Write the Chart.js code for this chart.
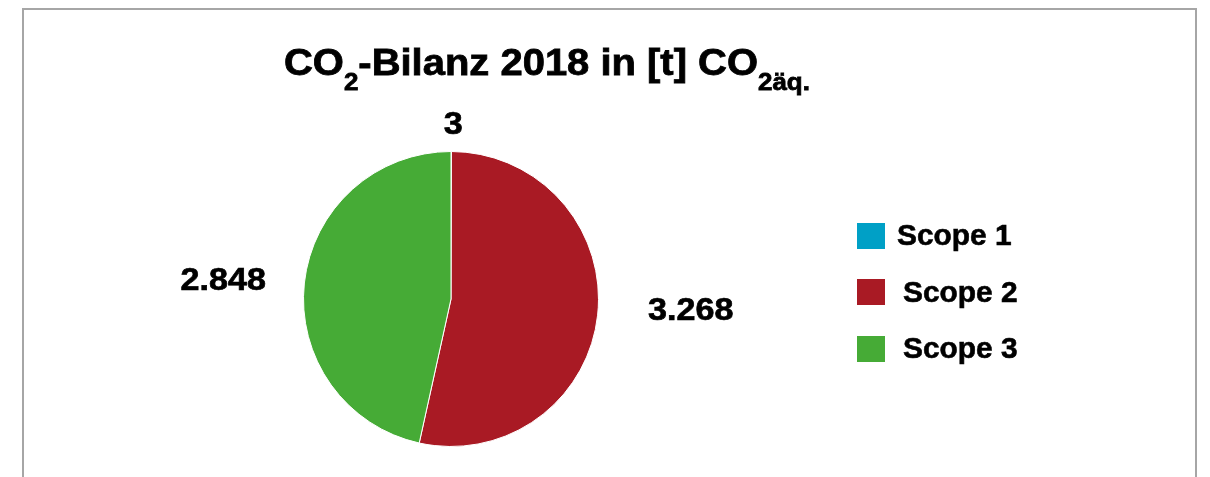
<!DOCTYPE html>
<html>
<head>
<meta charset="utf-8">
<script src="https://cdn.jsdelivr.net/npm/chart.js@4"></script>
<style>
  html, body { margin: 0; padding: 0; background: #fff; overflow: hidden; }
  #wrap { position: relative; width: 1210px; height: 477px; }
  #frame { position: absolute; left: 22px; top: 8px; width: 1171px; height: 520px; border: 2px solid #a6a6a6; }
  canvas { position: absolute; left: 0; top: 0; }
</style>
</head>
<body>
<div id="wrap">
  <div id="frame"></div>
  <canvas id="chart" width="1210" height="477"></canvas>
</div>
<script>
const categories = ['Scope 1', 'Scope 2', 'Scope 3'];
const emissions = [3, 3268, 2848];
const valueLabels = ['3', '3.268', '2.848'];
const colors = ['#00a0c6', '#a91a24', '#46ab36'];

const FONT = '"Liberation Sans", Arial, sans-serif';

// title pieces: [text, isSubscript]
const titleParts = [['CO', false], ['2', true], ['-Bilanz 2018 in [t] CO', false], ['2äq.', true]];

// text stretched horizontally, with a thin outline to thicken the strokes
function wideText(ctx, txt, x, y, sx, stroke) {
    ctx.save();
    ctx.translate(x, y);
    ctx.scale(sx, 1);
    ctx.fillText(txt, 0, 0);
    if (stroke) {
        ctx.lineWidth = stroke;
        ctx.strokeStyle = ctx.fillStyle;
        ctx.strokeText(txt, 0, 0);
    }
    ctx.restore();
}

const titlePlugin = {
    id: 'subTitle',
    afterDraw(chart) {
        const ctx = chart.ctx;
        const sx = 1.08;
        ctx.save();
        ctx.fillStyle = '#000';
        ctx.textBaseline = 'alphabetic';
        ctx.textAlign = 'left';
        let x = 284;
        titleParts.forEach(([txt, sub]) => {
            ctx.font = sub ? 'bold 24px ' + FONT : 'bold 37px ' + FONT;
            wideText(ctx, txt, x, sub ? 90 : 75, sx, 0.8);
            x += ctx.measureText(txt).width * sx;
        });
        ctx.restore();
    }
};

// value labels outside the slices
const outLabels = {
    id: 'outLabels',
    afterDatasetsDraw(chart, args, opts) {
        const ctx = chart.ctx;
        const meta = chart.getDatasetMeta(0);
        const sx = 1.1;
        ctx.save();
        ctx.font = 'bold 31px ' + FONT;
        ctx.fillStyle = '#000';
        ctx.textAlign = 'center';
        ctx.textBaseline = 'middle';
        meta.data.forEach((arc, i) => {
            const p = arc.getProps(['x', 'y', 'startAngle', 'endAngle', 'outerRadius'], true);
            const mid = (p.startAngle + p.endAngle) / 2;
            const w = ctx.measureText(valueLabels[i]).width * sx;
            const h = 22;
            const dx = Math.cos(mid), dy = Math.sin(mid);
            const d = p.outerRadius + 30 + Math.abs(dx) * w / 2 + Math.abs(dy) * h / 2;
            const n = opts.nudge[i];
            wideText(ctx, valueLabels[i], p.x + dx * d + n[0], p.y + dy * d + n[1] + 1, sx, 0.7);
        });
        ctx.restore();
    }
};

// legend on the right
const sideLegend = {
    id: 'sideLegend',
    afterDraw(chart) {
        const ctx = chart.ctx;
        const boxTop = [223, 279, 336];
        const textX = [897, 903, 903];
        const baseY = [245, 302, 358];
        ctx.save();
        ctx.font = 'bold 29px ' + FONT;
        ctx.textBaseline = 'alphabetic';
        ctx.textAlign = 'left';
        categories.forEach((c, i) => {
            ctx.fillStyle = colors[i];
            ctx.fillRect(857, boxTop[i], 28, 26);
            ctx.fillStyle = '#000';
            wideText(ctx, c, textX[i], baseY[i], 1.03, 0.6);
        });
        ctx.restore();
    }
};

new Chart(document.getElementById('chart'), {
    type: 'pie',
    data: {
        labels: categories,
        datasets: [{
            data: emissions,
            backgroundColor: colors,
            borderColor: '#ffffff',
            borderWidth: 1
        }]
    },
    options: {
        responsive: false,
        animation: false,
        layout: { padding: { left: 303, right: 611, top: 151, bottom: 30 } },
        plugins: {
            legend: { display: false },
            tooltip: { enabled: false },
            title: { display: false },
            outLabels: { nudge: [[2, 14], [20, -13], [-8, 5]] }
        }
    },
    plugins: [titlePlugin, outLabels, sideLegend]
});
</script>
</body>
</html>
